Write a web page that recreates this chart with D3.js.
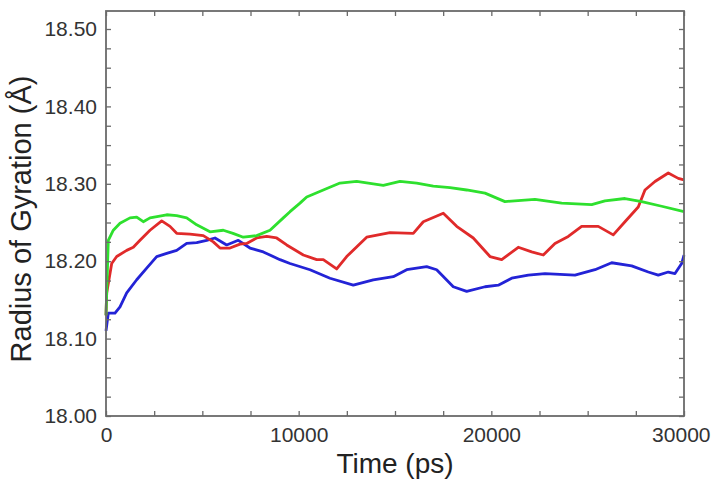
<!DOCTYPE html>
<html><head><meta charset="utf-8">
<script src="https://cdn.jsdelivr.net/npm/d3@7"></script>
<style>body{margin:0;background:#fff}svg{display:block}</style>
</head><body>
<script>
// Time (ps) and radius of gyration (Å)
const greenT = [0,120,380,727,1246,1593,1936,2284,3150,3669,4188,4707,5398,6088,6591,7126,7821,8512,9202,9550,10069,10417,11278,12145,13011,13873,14392,15259,16126,16987,17854,18721,19671,20709,22265,23651,25208,25898,26936,27803,28841,30000];
const greenV = [18.13,18.227,18.240,18.249,18.256,18.257,18.251,18.256,18.260,18.259,18.256,18.247,18.238,18.240,18.236,18.231,18.233,18.240,18.256,18.264,18.275,18.283,18.292,18.301,18.303,18.300,18.298,18.303,18.301,18.297,18.295,18.292,18.288,18.277,18.280,18.275,18.273,18.278,18.281,18.277,18.271,18.264];
const redT = [0,36,296,555,1074,1417,1765,2284,2891,3322,3669,4360,5050,5569,5917,6436,6955,7302,7821,8340,8859,9378,10240,10935,11278,11973,12492,13530,14740,15949,16468,17506,18201,19063,19930,20537,21398,22094,22696,23303,23993,24689,25550,26329,26936,27626,27974,28493,29184,29703,30000];
const redV = [18.13,18.159,18.197,18.206,18.214,18.218,18.227,18.240,18.252,18.245,18.236,18.235,18.233,18.225,18.217,18.217,18.222,18.223,18.230,18.232,18.230,18.221,18.208,18.202,18.202,18.190,18.206,18.231,18.237,18.236,18.251,18.262,18.245,18.230,18.206,18.202,18.218,18.212,18.208,18.223,18.232,18.245,18.245,18.234,18.251,18.270,18.292,18.303,18.314,18.307,18.305];
const blueT = [0,120,467,727,1074,1593,2112,2631,3150,3669,4188,4707,5226,5657,6264,6866,7474,8164,9031,9550,10588,11626,12835,13873,14911,15606,16644,17163,18025,18721,19671,20361,21056,21918,22784,24341,25379,26246,27284,28146,28665,29184,29532,29879,30000];
const blueV = [18.110,18.133,18.133,18.141,18.159,18.176,18.191,18.206,18.210,18.214,18.223,18.224,18.227,18.230,18.221,18.227,18.217,18.212,18.202,18.197,18.189,18.178,18.169,18.176,18.180,18.189,18.193,18.189,18.167,18.161,18.167,18.169,18.178,18.182,18.184,18.182,18.189,18.198,18.194,18.186,18.182,18.186,18.184,18.197,18.208];
const xTickLabels = [0,10000,20000,30000];
const yTickLabels = [18.00,18.10,18.20,18.30,18.40,18.50];

const W = 712, H = 483;
const svg = d3.select("body").append("svg").attr("width", W).attr("height", H);
const x = d3.scaleLinear().domain([0, 30000]).range([106, 684]);
const y = d3.scaleLinear().domain([18, 18.5]).range([416, 29]);
const yTop = 11;

const minorX = d3.range(0, 30001, 2500);
const minorY = d3.range(0, 21).map(i => 18 + i * 0.025).filter(v => v <= 18.5 + 1e-9);
const frameColor = "#6a6a6a";

// lines
const series = [
  {t: blueT, v: blueV, c: "#2323d6"},
  {t: redT, v: redV, c: "#e02a2a"},
  {t: greenT, v: greenV, c: "#2ee02e"}
];
const line = d3.line().x(d => x(d[0])).y(d => y(d[1])).curve(d3.curveLinear);
series.forEach(s => {
  svg.append("path").datum(s.t.map((t, i) => [t, s.v[i]]))
    .attr("d", line).attr("fill", "none").attr("stroke", s.c)
    .attr("stroke-width", 2.8).attr("stroke-linejoin", "round");
});

// ticks (inward) on all four sides
const gB = svg.append("g").attr("transform", `translate(0,${y(18)})`)
  .call(d3.axisBottom(x).tickValues(minorX).tickSize(-5).tickFormat(""));
const gT = svg.append("g").attr("transform", `translate(0,${yTop})`)
  .call(d3.axisTop(x).tickValues(minorX).tickSize(-5).tickFormat(""));
const gL = svg.append("g").attr("transform", `translate(${x(0)},0)`)
  .call(d3.axisLeft(y).tickValues(minorY).tickSize(-5).tickFormat(""));
const gR = svg.append("g").attr("transform", `translate(${x(30000)},0)`)
  .call(d3.axisRight(y).tickValues(minorY).tickSize(-5).tickFormat(""));
[gB, gT, gL, gR].forEach(g => {
  g.select(".domain").remove();
  g.selectAll("line").attr("stroke", frameColor).attr("stroke-width", 1.3);
});

// frame
svg.append("rect").attr("x", x(0)).attr("y", yTop)
  .attr("width", x(30000) - x(0)).attr("height", y(18) - yTop)
  .attr("fill", "none").attr("stroke", frameColor).attr("stroke-width", 1.8);

// tick labels
const font = "'Liberation Sans', Arial, sans-serif";
const xl = svg.append("g").attr("transform", `translate(0,${y(18)})`)
  .call(d3.axisBottom(x).tickValues(xTickLabels).tickSize(0).tickPadding(11).tickFormat(d3.format("d")));
xl.select(".domain").remove();
xl.selectAll("text").attr("font-family", font).attr("font-size", 21).attr("fill", "#333");
// keep the last label inside the window
xl.selectAll(".tick").filter(d => d === 30000).select("text")
  .attr("text-anchor", "end").attr("x", W - 2 - x(30000));

const yl = svg.append("g").attr("transform", `translate(${x(0)},0)`)
  .call(d3.axisLeft(y).tickValues(yTickLabels).tickSize(0).tickPadding(9).tickFormat(d3.format(".2f")));
yl.select(".domain").remove();
yl.selectAll("text").attr("font-family", font).attr("font-size", 21).attr("fill", "#333");

// axis titles
svg.append("text").attr("x", 395).attr("y", 473).attr("text-anchor", "middle")
  .attr("font-family", font).attr("font-size", 28).attr("fill", "#222").text("Time (ps)");
svg.append("text").attr("transform", "translate(31,219) rotate(-90)").attr("text-anchor", "middle")
  .attr("font-family", font).attr("font-size", 29).attr("fill", "#222").text("Radius of Gyration (Å)");
</script>
</body></html>
